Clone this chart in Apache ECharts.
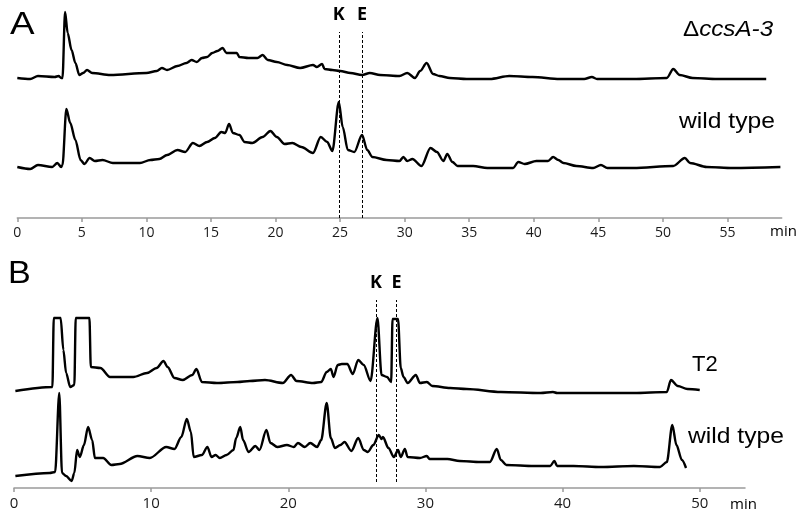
<!DOCTYPE html>
<html>
<head>
<meta charset="utf-8">
<script src="https://cdn.jsdelivr.net/npm/echarts@6.0.0/dist/echarts.min.js"></script>
<style>
  html, body { margin: 0; padding: 0; background: #fff; }
</style>
</head>
<body>
<div id="main" style="width: 800px;height: 522px;"></div>
<script>
// tick labels (min)
var ticksA = [0, 5, 10, 15, 20, 25, 30, 35, 40, 45, 50, 55]
var ticksB = [0, 10, 20, 30, 40, 50]

// panel A traces: [time (min), signal (a.u.)]
var ccsA3 = [
  [0.0, 140], [1.0, 139], [1.6, 142], [2.9, 141], [3.2, 142], [3.4, 140], [3.5, 140],
  [3.7, 206], [3.9, 185], [4.2, 168], [4.5, 155], [4.8, 143], [5.1, 145], [5.4, 148],
  [5.8, 145], [7.2, 143], [10.0, 145], [10.8, 147], [11.2, 150], [11.6, 148], [12.4, 152],
  [13.1, 155], [13.5, 158], [13.9, 156], [14.3, 160], [14.7, 161], [15.1, 165], [15.5, 167],
  [15.9, 170], [16.2, 165], [16.6, 165], [17.0, 165], [17.2, 161], [17.9, 160], [18.6, 160],
  [19.0, 163], [19.4, 158], [20.1, 156], [20.9, 153], [21.9, 150], [22.9, 153], [23.2, 151],
  [23.6, 154], [23.8, 149], [24.4, 148], [25.0, 147], [25.8, 145], [26.7, 143], [27.3, 145],
  [28.1, 143], [29.6, 142], [30.2, 145], [30.8, 140], [31.2, 147], [31.7, 155], [32.2, 144],
  [32.7, 142], [33.5, 140], [34.8, 139], [36.6, 139], [38.1, 142], [39.9, 141], [42.0, 139],
  [43.9, 139], [44.5, 141], [44.9, 139], [47.7, 139], [50.3, 140], [50.8, 149], [51.3, 143],
  [52.3, 140], [54.2, 139], [58.0, 139]
]
var wildA = [
  [0.0, 51], [1.0, 49], [1.6, 53], [2.7, 51], [3.1, 55], [3.4, 51], [3.5, 53], [3.8, 109],
  [4.1, 95], [4.5, 78], [4.9, 58], [5.2, 54], [5.6, 60], [6.0, 57], [6.6, 58], [7.4, 55],
  [9.5, 55], [10.3, 58], [11.0, 59], [11.6, 63], [12.4, 68], [13.0, 66], [13.6, 75],
  [14.1, 72], [14.7, 76], [15.3, 80], [15.8, 86], [16.1, 85], [16.4, 94], [16.7, 85],
  [17.2, 83], [17.6, 76], [18.2, 75], [19.0, 81], [19.6, 87], [20.1, 81], [20.7, 74],
  [21.3, 75], [22.0, 71], [22.9, 65], [23.5, 81], [24.0, 76], [24.4, 67], [24.9, 116],
  [25.2, 91], [25.6, 68], [26.1, 66], [26.7, 83], [27.1, 68], [27.5, 61], [28.6, 58],
  [29.6, 57], [29.9, 61], [30.2, 57], [30.6, 59], [31.3, 52], [32.0, 70], [32.5, 66],
  [33.0, 57], [33.3, 64], [33.7, 56], [34.1, 52], [35.3, 52], [36.4, 50], [38.4, 50],
  [38.8, 56], [39.3, 54], [40.2, 57], [41.1, 57], [41.5, 61], [41.9, 58], [42.3, 55],
  [43.3, 52], [44.6, 50], [45.2, 53], [45.7, 50], [47.7, 50], [50.8, 52], [51.7, 60],
  [52.1, 55], [53.4, 51], [55.4, 50], [59.1, 51]
]

// panel B traces
var t2 = [
  [0.1, 97], [2.8, 101], [2.9, 170], [3.4, 170], [3.6, 138], [3.8, 115], [4.1, 101],
  [4.4, 103], [4.5, 170], [5.5, 170], [5.6, 121], [6.3, 120], [7.0, 111], [8.7, 111],
  [9.7, 115], [10.4, 120], [10.9, 127], [11.2, 121], [11.7, 110], [12.3, 108], [13.0, 113],
  [13.3, 119], [13.7, 106], [14.8, 105], [16.3, 106], [17.2, 107], [18.3, 108], [19.6, 105],
  [20.2, 113], [20.6, 107], [21.8, 105], [22.4, 106], [22.8, 116], [23.1, 119], [23.3, 111],
  [23.6, 123], [23.9, 124], [24.3, 124], [24.7, 114], [25.1, 128], [25.5, 123], [26.0, 107],
  [26.5, 170], [26.8, 113], [27.2, 111], [27.5, 106], [27.6, 169], [28.0, 169], [28.2, 120],
  [28.4, 111], [28.7, 105], [29.3, 113], [29.6, 105], [30.1, 106], [30.5, 102], [31.8, 100],
  [33.0, 99], [35.5, 96], [38.4, 95], [39.3, 96], [39.6, 95], [45.2, 95], [47.6, 96],
  [47.9, 108], [48.4, 102], [49.1, 99], [50.0, 98]
]
var wildB = [
  [0.1, 12], [2.6, 15], [3.0, 16], [3.3, 95], [3.5, 15], [3.8, 12], [4.2, 7], [4.4, 15],
  [4.6, 38], [4.8, 31], [5.1, 43], [5.4, 61], [5.7, 48], [5.9, 30], [6.5, 30], [7.1, 23],
  [7.7, 24], [9.0, 32], [9.9, 30], [11.1, 41], [11.7, 39], [12.2, 51], [12.6, 69], [12.9, 56],
  [13.1, 31], [13.7, 33], [14.1, 41], [14.4, 31], [14.7, 33], [15.0, 30], [15.5, 33],
  [16.0, 38], [16.2, 50], [16.5, 61], [16.7, 48], [17.1, 36], [17.6, 42], [17.9, 38],
  [18.4, 58], [18.7, 45], [19.2, 41], [19.9, 43], [20.4, 41], [20.7, 45], [21.2, 41],
  [21.6, 45], [22.1, 41], [22.4, 48], [22.8, 85], [23.1, 50], [23.4, 40], [23.8, 43],
  [24.1, 46], [24.6, 37], [25.1, 50], [25.5, 38], [25.8, 36], [26.2, 43], [26.6, 53],
  [26.8, 49], [26.9, 51], [27.3, 40], [27.7, 31], [28.0, 38], [28.2, 31], [28.5, 39],
  [28.7, 31], [29.6, 30], [30.1, 32], [30.3, 29], [31.6, 29], [32.5, 27], [34.0, 26],
  [34.7, 26], [35.2, 39], [35.5, 28], [35.9, 23], [37.9, 22], [39.1, 22], [39.4, 27],
  [39.6, 22], [40.8, 22], [42.8, 21], [45.2, 22], [47.1, 21], [47.6, 26], [48.0, 63],
  [48.3, 43], [48.7, 28], [49.0, 20]
]

// K / E retention times and dashed-line spans
var markA = [['K', 24.9], ['E', 26.7]]
var markB = [['K', 26.4], ['E', 27.9]]
var spanA = [0, 186]
var spanB = [6, 188]

var lineFont = '"Liberation Sans", Arial, sans-serif'
var tickFont = '"Open Sans", sans-serif'

function markLines(marks, span) {
  return marks.map(function (m) {
    return [{name: m[0], coord: [m[1], span[0]]}, {coord: [m[1], span[1]]}]
  })
}

function axisX(grid, max, ticks, size) {
  return {
    type: 'value', gridIndex: grid, min: 0, max: max,
    axisLine: {lineStyle: {color: '#9a9a9a', width: 1.5}},
    axisTick: {customValues: ticks, length: 4, lineStyle: {color: '#9a9a9a', width: 1.5}},
    axisLabel: {customValues: ticks, color: '#1a1a1a', fontSize: size, fontFamily: tickFont, margin: 8},
    splitLine: {show: false}
  }
}

function trace(name, idx, data, extra) {
  var s = {
    name: name, type: 'line', xAxisIndex: idx, yAxisIndex: idx,
    data: data, showSymbol: false, symbol: 'none', clip: false,
    smooth: 0.3, smoothMonotone: 'x',
    lineStyle: {color: '#000', width: 2.4, join: 'round'}, silent: true
  }
  return Object.assign(s, extra || {})
}

function dashed(marks, span) {
  return {
    markLine: {
      silent: true, symbol: 'none', animation: false,
      lineStyle: {color: '#000', type: [3, 2], width: 1},
      label: {show: true, position: 'end', formatter: '{b}', distance: 8,
        color: '#000', fontSize: 18, fontWeight: 'bold', fontFamily: tickFont},
      data: markLines(marks, span)
    }
  }
}

function txt(x, y, text, font, extra) {
  return Object.assign({
    type: 'text', x: x, y: y, silent: true,
    style: {text: text, font: font, fill: '#000', verticalAlign: 'middle'}
  }, extra || {})
}

var option = {
  animation: false,
  backgroundColor: '#fff',
  grid: [
    {left: 17.3, right: 18.3, top: 8, height: 210},
    {left: 14, right: 55, top: 278, height: 210}
  ],
  xAxis: [axisX(0, 59.2, ticksA, 14), axisX(1, 53.3, ticksB, 15)],
  yAxis: [
    {type: 'value', gridIndex: 0, min: 0, max: 210, show: false},
    {type: 'value', gridIndex: 1, min: 0, max: 210, show: false}
  ],
  series: [
    trace('ΔccsA-3', 0, ccsA3),
    trace('wild type A', 0, wildA, dashed(markA, spanA)),
    trace('T2', 1, t2),
    trace('wild type B', 1, wildB, dashed(markB, spanB))
  ],
  graphic: [
    txt(10, 25, 'A', '32px ' + lineFont, {scaleX: 1.15}),
    txt(8, 274, 'B', '31px ' + lineFont, {scaleX: 1.1}),
    {
      type: 'text', x: 683, y: 30, silent: true, scaleX: 1.1,
      style: {
        text: 'Δ{it|ccsA-3}', font: '22px ' + lineFont, fill: '#000', verticalAlign: 'middle',
        rich: {it: {fontStyle: 'italic', fontSize: 22, fontFamily: lineFont}}
      }
    },
    txt(679, 122, 'wild type', '22px ' + lineFont, {scaleX: 1.12}),
    txt(692, 365, 'T2', '22px ' + lineFont),
    txt(688, 437, 'wild type', '22px ' + lineFont, {scaleX: 1.12}),
    txt(770, 232, 'min', '15px ' + tickFont),
    txt(730, 505, 'min', '15px ' + tickFont)
  ]
}

var mainEcharts = echarts.init(document.getElementById('main'))
mainEcharts.setOption(option)
</script>
</body>
</html>
